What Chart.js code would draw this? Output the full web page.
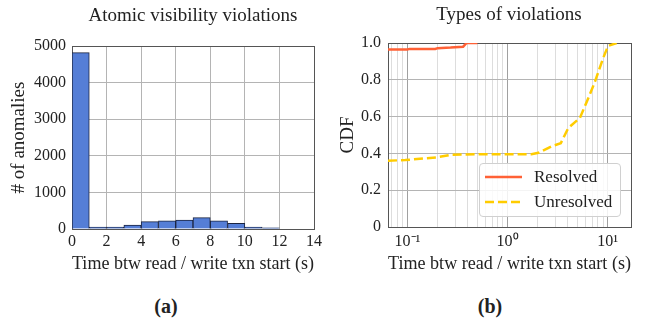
<!DOCTYPE html>
<html>
<head>
<meta charset="utf-8">
<script src="https://cdn.jsdelivr.net/npm/chart.js@4.4.0/dist/chart.umd.min.js"></script>
<style>
  body { margin: 0; background: #fff; width: 652px; height: 324px; position: relative; overflow: hidden;
         font-family: "Liberation Serif", serif; color: #222; }
  .box { position: absolute; top: 0; width: 326px; height: 275px; }
  .ttl { position: absolute; font-size: 19px; white-space: nowrap; transform: translate(-50%, -50%); }
  .sub { position: absolute; font-size: 20px; font-weight: bold; transform: translate(-50%, -50%); }
  .legend { position: absolute; left: 479px; top: 163px; width: 142px; height: 54px; box-sizing: border-box;
            border: 1px solid #d0d0d0; border-radius: 4px; background: rgba(255,255,255,0.85); }
  .row { position: absolute; left: 0; height: 20px; display: flex; align-items: center; font-size: 17px; }
  .row svg { margin-left: 5px; margin-right: 12px; }
</style>
</head>
<body>
<div class="box" style="left:0"><canvas id="histChart" width="326" height="275"></canvas></div>
<div class="box" style="left:326px"><canvas id="cdfChart" width="326" height="275"></canvas></div>

<div class="ttl" style="left:193px; top:15px">Atomic visibility violations</div>
<div class="ttl" style="left:509px; top:14px">Types of violations</div>
<div class="sub" style="left:166px; top:306px">(a)</div>
<div class="sub" style="left:490px; top:306px">(b)</div>

<div class="legend">
  <div class="row" style="top:3px">
    <svg width="37" height="6"><line x1="0" y1="3" x2="37" y2="3" stroke="#ff6136" stroke-width="2.5"/></svg>Resolved
  </div>
  <div class="row" style="top:28px">
    <svg width="37" height="6"><line x1="0" y1="3" x2="37" y2="3" stroke="#ffcc00" stroke-width="2.5" stroke-dasharray="9 4"/></svg>Unresolved
  </div>
</div>

<script>
// histogram (a)
const binStarts = [0, 1, 2, 3, 4, 5, 6, 7, 8, 9, 10, 11, 12, 13];
const binCounts = [4820, 50, 50, 110, 200, 225, 245, 310, 225, 155, 50, 30, 0, 0];

// CDF (b)
const resolvedX = [0.064, 0.1, 0.105, 0.19, 0.2, 0.27, 0.36, 0.39, 0.5];
const resolvedY = [0.965, 0.965, 0.968, 0.968, 0.972, 0.975, 0.98, 1.0, 1.0];
const unresolvedX = [0.064, 0.095, 0.195, 0.275, 0.5, 1.0, 1.73, 2.04, 2.8, 3.4, 4.04, 5.28, 6.4, 7.47, 9.04, 10.1, 12.3];
const unresolvedY = [0.36, 0.364, 0.378, 0.393, 0.395, 0.395, 0.395, 0.403, 0.44, 0.455, 0.538, 0.593, 0.70, 0.79, 0.92, 0.984, 1.0];

const cdfDecades = [0.01, 0.1, 1, 10];
const decadeLabels = ['10\u207B\u00B2', '10\u207B\u00B9', '10\u2070', '10\u00B9'];

Chart.defaults.font.family = "'Liberation Serif', serif";
Chart.defaults.color = '#222';

const gridGrey = '#b4b4b4';
const edgeGrey = '#555';
const tickFont = { size: 16 };
const titleFont = { size: 19 };

new Chart(document.getElementById('histChart'), {
  type: 'bar',
  data: {
    datasets: [{
      data: binStarts.map((s, i) => ({ x: s + 0.5, y: binCounts[i] })),
      backgroundColor: '#557ed6',
      borderColor: '#1b2440',
      borderWidth: 1,
      barPercentage: 1,
      categoryPercentage: 1
    }]
  },
  options: {
    responsive: false,
    animation: false,
    layout: { padding: { top: 46, right: 12, left: 0, bottom: 0 } },
    plugins: { legend: { display: false }, tooltip: { enabled: false } },
    scales: {
      x: {
        type: 'linear', min: 0, max: 14, offset: false,
        ticks: { stepSize: 2, padding: 3, font: tickFont, maxRotation: 0, callback: v => String(v) },
        grid: { offset: false, drawTicks: false, color: c => (c.tick && c.tick.value === 14) ? edgeGrey : gridGrey },
        border: { color: edgeGrey },
        title: { display: true, text: 'Time btw read / write txn start (s)', font: titleFont, padding: { top: 2, bottom: 0 } },
        afterFit: s => { s.height = 46; }
      },
      y: {
        min: 0, max: 5000,
        ticks: { stepSize: 1000, padding: 6, font: tickFont, callback: v => String(v) },
        grid: { drawTicks: false, color: c => (c.tick && c.tick.value === 5000) ? edgeGrey : gridGrey },
        border: { color: edgeGrey },
        title: { display: true, text: '# of anomalies', font: titleFont, padding: { top: 8, bottom: 0 } },
        afterFit: s => { s.width = 72; }
      }
    }
  }
});

const xMin = 0.064, xMax = 17.1;
const isDecade = v => Math.abs(Math.log10(v) - Math.round(Math.log10(v))) < 1e-9;

new Chart(document.getElementById('cdfChart'), {
  type: 'line',
  data: {
    datasets: [
      {
        label: 'Resolved',
        data: resolvedX.map((x, i) => ({ x: x, y: resolvedY[i] })),
        borderColor: '#ff6136', borderWidth: 2.5, pointRadius: 0, tension: 0, fill: false
      },
      {
        label: 'Unresolved',
        data: unresolvedX.map((x, i) => ({ x: x, y: unresolvedY[i] })),
        borderColor: '#ffcc00', borderWidth: 2.5, borderDash: [9, 4], pointRadius: 0, tension: 0, fill: false
      }
    ]
  },
  options: {
    responsive: false,
    animation: false,
    layout: { padding: { top: 43, right: 21, left: 0, bottom: 0 } },
    plugins: { legend: { display: false }, tooltip: { enabled: false } },
    scales: {
      x: {
        type: 'logarithmic', min: xMin, max: xMax,
        afterBuildTicks: s => {
          const vals = [xMin];
          cdfDecades.forEach(d => {
            for (let m = 1; m <= 9; m++) {
              const v = d * m;
              if (v > xMin && v < xMax) vals.push(v);
            }
          });
          vals.push(xMax);
          s.ticks = vals.map(v => ({ value: v }));
        },
        ticks: {
          autoSkip: false, maxRotation: 0, padding: 5, font: tickFont,
          callback: v => {
            const i = cdfDecades.findIndex(d => Math.abs(d - v) < 1e-9);
            return i >= 0 ? decadeLabels[i] : '';
          }
        },
        grid: {
          drawTicks: false,
          color: c => {
            if (!c.tick) return gridGrey;
            const v = c.tick.value;
            if (v === xMax) return edgeGrey;
            if (v === xMin) return 'rgba(0,0,0,0)';
            return isDecade(v) ? '#a0a0a0' : '#dddddd';
          }
        },
        border: { color: edgeGrey },
        title: { display: true, text: 'Time btw read / write txn start (s)', font: titleFont, padding: { top: 1, bottom: 0 } },
        afterFit: s => { s.height = 48; }
      },
      y: {
        min: 0, max: 1,
        ticks: { stepSize: 0.2, padding: 7, font: tickFont, callback: v => v === 0 ? '0' : v.toFixed(1) },
        grid: { drawTicks: false, color: c => (c.tick && c.tick.value === 1) ? edgeGrey : gridGrey },
        border: { color: edgeGrey },
        title: { display: true, text: 'CDF', font: titleFont, padding: { top: 11, bottom: 0 } },
        afterFit: s => { s.width = 62; }
      }
    }
  }
});
</script>
</body>
</html>
